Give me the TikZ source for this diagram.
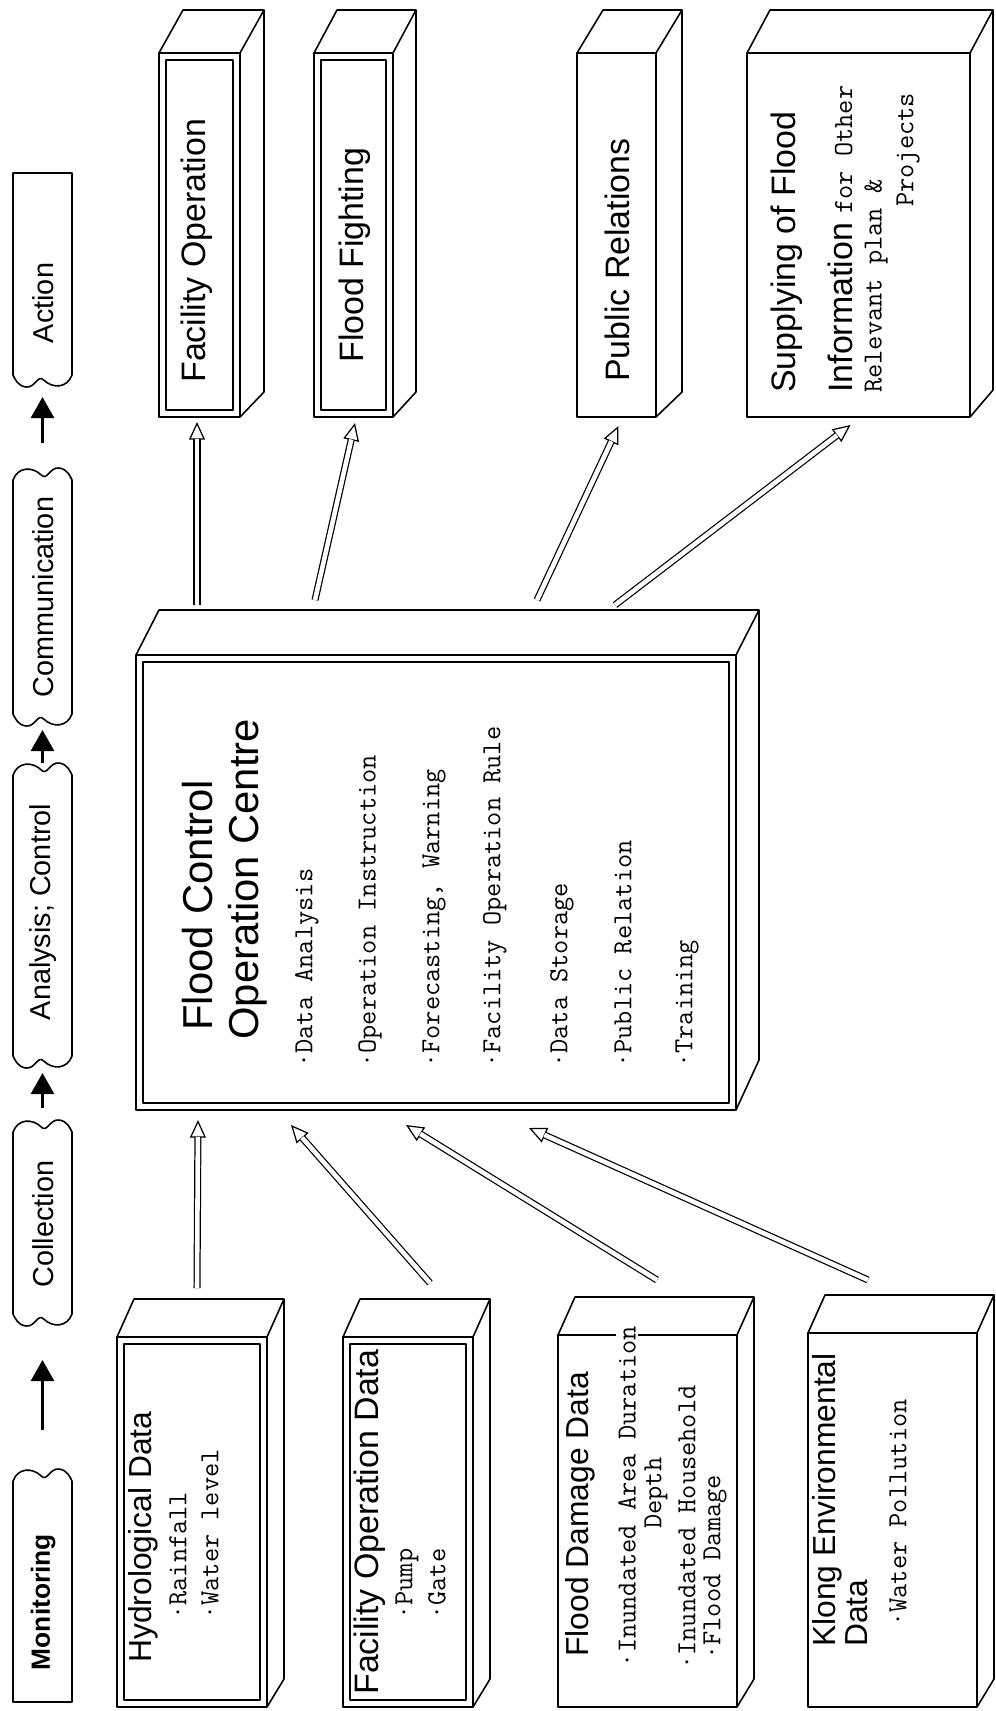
\documentclass[tikz,border=0pt]{standalone}
\usepackage{fontspec}
\setmainfont{Liberation Serif}
\newfontfamily\hv{Liberation Sans}
\usetikzlibrary{arrows.meta,calc,fit}

% typewriter face used for the item lists
\newcommand\itemface{\ttfamily\fontsize{15.7pt}{18pt}\selectfont\addfontfeatures{FakeBold=0.5}}

% wavy end of a stage banner, left to right, bulging upwards
\newcommand\wavetop[3]{%
 .. controls ({#1+0.08*(#2-#1)},{#3-13}) and ({#1+0.32*(#2-#1)},{#3-14}) .. ({#1+0.48*(#2-#1)},{#3-5})
 .. controls ({#1+0.58*(#2-#1)},{#3+1}) and ({#1+0.62*(#2-#1)},{#3-13}) .. ({#1+0.78*(#2-#1)},{#3-12})
 .. controls ({#1+0.92*(#2-#1)},{#3-11}) and ({#2-2},{#3-4}) .. (#2,#3)}
% wavy end of a stage banner, right to left, bulging downwards
\newcommand\wavebot[3]{%
 .. controls ({#1-0.08*(#1-#2)},{#3+13}) and ({#1-0.32*(#1-#2)},{#3+14}) .. ({#1-0.48*(#1-#2)},{#3+5})
 .. controls ({#1-0.58*(#1-#2)},{#3-1}) and ({#1-0.62*(#1-#2)},{#3+13}) .. ({#1-0.78*(#1-#2)},{#3+12})
 .. controls ({#1-0.92*(#1-#2)},{#3+11}) and ({#2+2},{#3+4}) .. (#2,#3)}
% top and side faces of a block: node, depth dx, depth dy, dy at the bottom of the side face
\newcommand\boxdepth[4]{%
 \draw[boxline] (#1.north west) -- ++(#2,-#3) -- ($(#1.north east)+(#2,-#3)$)
   -- ($(#1.south east)+(#2,-#4)$) -- (#1.south east);
 \draw[boxline] (#1.north east) -- ++(#2,-#3);}
% second frame line inside a front face
\newcommand\innerframe[1]{%
 \draw[boxline] ([shift={(7,7)}]#1.north west) rectangle ([shift={(-7,-7)}]#1.south east);}
% double-line connector with an open head
\newcommand\hollowarrow[2]{%
 \draw[hhead] (#1) -- (#2);
 \draw[hshaft] (#1) -- (#2);}

\tikzset{
 boxline/.style={line width=0.9pt},
 facebox/.style={draw, line width=0.9pt, inner sep=0pt, outer sep=0pt},
 spanbox/.style={inner sep=0pt, outer sep=0pt},
 vt/.style={rotate=90, anchor=west, inner sep=0pt},
 vc/.style={rotate=90, anchor=center, inner sep=0pt},
 bannerfont/.style={font=\hv\fontsize{16.4pt}{19pt}\selectfont},
 headfont/.style={font=\hv\fontsize{19.3pt}{22pt}\selectfont},
 datafont/.style={font=\hv\fontsize{18.1pt}{21pt}\selectfont},
 titlefont/.style={font=\hv\fontsize{23.8pt}{27pt}\selectfont},
 itemfont/.style={font=\itemface},
 flow/.style={line width=2pt, -{Triangle[length=12pt,width=13pt]}},
 hhead/.style={line width=0.7pt, -{Triangle[open,length=10pt,width=9pt]}},
 hshaft/.style={line width=0.7pt, double, double distance=2.6pt, shorten >=9.6pt},
}

\begin{document}
\begin{tikzpicture}[x=0.02cm, y=-0.02cm, line join=round]
\fill[white] (0,0) rectangle (995,1711);
\useasboundingbox (0,0) rectangle (995,1711);

% ---- stage banners ----
\draw[boxline] (72,375) \wavebot{72}{13}{375} -- (13,173) -- (72,173) -- cycle;
\draw[boxline] (13,480) \wavetop{13}{72}{480} -- (72,714) \wavebot{72}{13}{714} -- cycle;
\draw[boxline] (13,775) \wavetop{13}{72}{775} -- (72,1056) \wavebot{72}{13}{1056} -- cycle;
\draw[boxline] (13,1132) \wavetop{13}{72}{1132} -- (72,1314) \wavebot{72}{13}{1314} -- cycle;
\draw[boxline] (13,1481) \wavetop{13}{72}{1481} -- (72,1702) -- (13,1702) -- cycle;

\node[spanbox, fit={(13,173) (72,375)}] (actB) {};
\node[spanbox, fit={(13,480) (72,714)}] (comB) {};
\node[spanbox, fit={(13,775) (72,1056)}] (anaB) {};
\node[spanbox, fit={(13,1132) (72,1314)}] (colB) {};
\node[spanbox, fit={(13,1481) (72,1702)}] (monB) {};

\node[vc, bannerfont] (actT) at (43,303) {Action};
\node[vc, bannerfont] (comT) at (43,597) {Communication};
\node[vc, bannerfont] (anaT) at (43,912) {Analysis; Control};
\node[vc, bannerfont] (colT) at (43,1224) {Collection};
\node[vc, font={\hv\bfseries\fontsize{15pt}{18pt}\selectfont}] (monT) at (43,1602) {Monitoring};

\draw[flow, shorten <=1.02cm, shorten >=0.92cm] (monB.north) -- (colB.south);
\draw[flow, shorten <=0.48cm, shorten >=0.34cm] (colB.north) -- (anaB.south);
\draw[flow, shorten <=0.24cm, shorten >=0.32cm] (anaB.north) -- (comB.south);
\draw[flow, shorten <=0.74cm, shorten >=0.44cm] (comB.north) -- (actB.south);

% ---- action blocks ----
\node[facebox, fit={(159,53) (240,417)}] (fo) {};
\boxdepth{fo}{24}{43}{25}
\innerframe{fo}
\node[facebox, fit={(314,53) (393,417)}] (ff) {};
\boxdepth{ff}{23}{43}{25}
\innerframe{ff}
\node[facebox, fit={(577,53) (656,417)}] (pr) {};
\boxdepth{pr}{26}{43}{25}
\node[facebox, fit={(747,53) (970,417)}] (sup) {};
\boxdepth{sup}{23}{43}{27}

\node[vt, headfont] (foT) at (197,383) {Facility Operation};
\node[vt, headfont] (ffT) at (355,363) {Flood Fighting};
\node[vt, headfont] (prT) at (617,382) {Public Relations};
\node[vt, headfont] (supT1) at (787,393) {Supplying of Flood};
\node[vt, headfont] (supT2) at (840,393) {Information\ {\itemface for Other}};
\node[vt, itemfont] (supT3) at (876,393) {Relevant plan \&};
\node[vt, itemfont] (supT4) at (908,207) {Projects};

% ---- operation centre ----
\node[facebox, fit={(136,655) (736,1110)}] (fcoc) {};
\boxdepth{fcoc}{23}{45}{50}
\innerframe{fcoc}

\node[vt, titlefont] (fcT1) at (198,1031) {Flood Control};
\node[vt, titlefont] (fcT2) at (248,1040) {Operation Centre};
\node[vt, itemfont] (fc1) at (307,1068) {·Data Analysis};
\node[vt, itemfont] (fc2) at (370,1068) {·Operation Instruction};
\node[vt, itemfont] (fc3) at (434,1068) {·Forecasting, Warning};
\node[vt, itemfont] (fc4) at (495,1068) {·Facility Operation Rule};
\node[vt, itemfont] (fc5) at (562,1068) {·Data Storage};
\node[vt, itemfont] (fc6) at (623,1068) {·Public Relation};
\node[vt, itemfont] (fc7) at (687,1068) {·Training};

% ---- data blocks ----
\node[facebox, fit={(117,1337) (267,1707)}] (hy) {};
\boxdepth{hy}{17}{38}{28}
\innerframe{hy}
\node[facebox, fit={(343,1337) (473,1707)}] (fod) {};
\boxdepth{fod}{17}{38}{28}
\innerframe{fod}
\node[facebox, fit={(558,1335) (737,1707)}] (fd) {};
\boxdepth{fd}{17}{38}{28}
\node[facebox, fit={(808,1333) (977,1707)}] (kl) {};
\boxdepth{kl}{17}{38}{28}

\node[vt, datafont] (hyT) at (143,1663) {Hydrological Data};
\node[vt, itemfont] (hy1) at (178,1620) {·Rainfall};
\node[vt, itemfont] (hy2) at (210,1620) {·Water level};

\node[vt, font=\hv\fontsize{19.3pt}{22pt}\selectfont] (fodT) at (370,1695) {Facility Operation Data};
\node[vt, itemfont] (fod1) at (407,1620) {·Pump};
\node[vt, itemfont] (fod2) at (437,1620) {·Gate};

\node[vt, datafont] (fdT) at (580,1657) {Flood Damage Data};
\node[vt, itemfont, fill=white, inner sep=1.5pt] (fd1) at (627,1670) {·Inundated Area Duration};
\node[vt, itemfont] (fd2) at (656,1529) {Depth};
\node[vt, itemfont] (fd3) at (687,1670) {·Inundated Household};
\node[vt, itemfont] (fd4) at (715,1660) {·Flood Damage};

\node[vt, datafont] (klT1) at (827,1647) {Klong Environmental};
\node[vt, datafont] (klT2) at (857,1647) {Data};
\node[vt, itemfont] (kl1) at (898,1627) {·Water Pollution};

% ---- connectors ----
\coordinate (up1) at (197,605);
\coordinate (up2) at (315,600);
\coordinate (up3) at (537,600);
\coordinate (up4) at (615,605);
\hollowarrow{up1}{$(fo.south)+(-2.5,5)$}
\hollowarrow{up2}{$(ff.south)+(1.5,6)$}
\hollowarrow{up3}{$(pr.south)+(2,9)$}
\hollowarrow{up4}{$(sup.south)+(-8,8)$}

\coordinate (dn1) at (197,1288);
\coordinate (dn2) at (430,1283);
\coordinate (dn3) at (657,1280);
\coordinate (dn4) at (868,1280);
\hollowarrow{dn1}{$(fcoc.south west)+(62,10)$}
\hollowarrow{dn2}{$(fcoc.south west)+(155,15)$}
\hollowarrow{dn3}{$(fcoc.south west)+(270,15)$}
\hollowarrow{dn4}{$(fcoc.south west)+(393,18)$}
\end{tikzpicture}
\end{document}
